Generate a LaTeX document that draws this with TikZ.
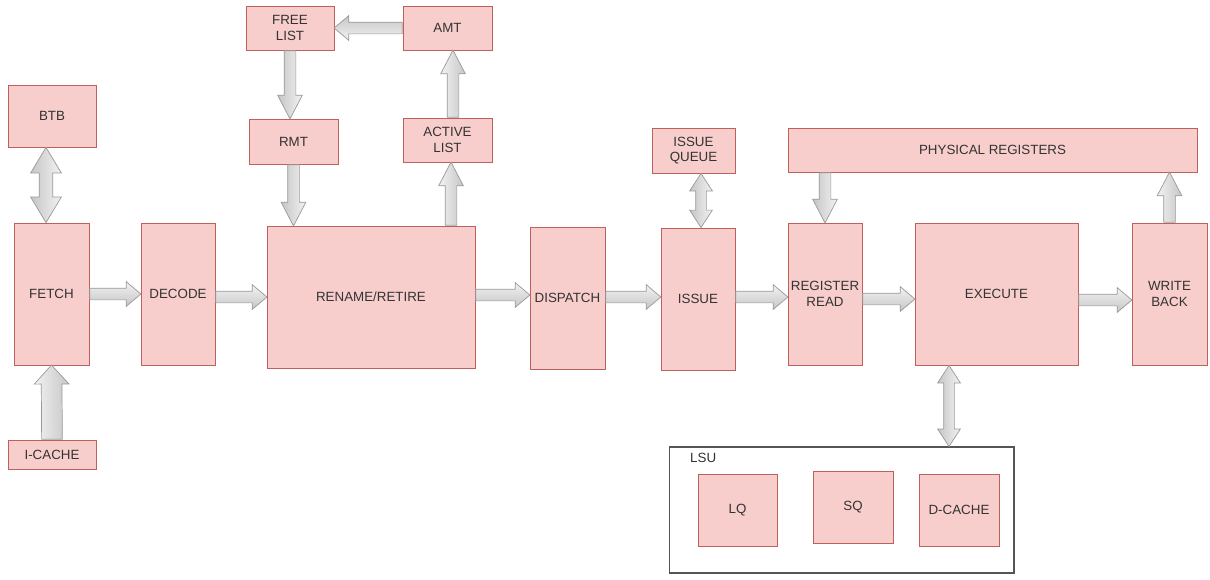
\documentclass[tikz,border=0pt]{standalone}
\usepackage{fontspec}
\setmainfont{Liberation Sans}
\usetikzlibrary{calc,positioning,shapes.arrows}
\definecolor{boxfill}{HTML}{F8CECC}
\definecolor{boxline}{HTML}{C0605C}
\definecolor{txt}{HTML}{333333}
\definecolor{arrline}{HTML}{999999}
\definecolor{lsuline}{HTML}{555555}

% block arrows between two points
\newcommand{\barr}[3][]{\path let \p1=(#2), \p2=(#3), \n1={veclen(\x2-\x1,\y2-\y1)}, \n2={atan2(\y2-\y1,\x2-\x1)} in node[arr,#1,minimum height=\n1,rotate=\n2,shading angle=\n2,anchor=tail] at (#2) {};}
\newcommand{\dbarr}[3][]{\path let \p1=(#2), \p2=(#3), \n1={veclen(\x2-\x1,\y2-\y1)}, \n2={atan2(\y2-\y1,\x2-\x1)} in node[arr,darr,#1,minimum height=\n1,rotate=\n2,shading angle=\n2] at ($(#2)!0.5!(#3)$) {};}

\begin{document}
\begin{tikzpicture}[x=0.02cm,y=-0.02cm,
  font=\fontsize{7.6}{9}\selectfont,
  blk/.style={draw=boxline,fill=boxfill,text=txt,align=center,inner sep=1pt,line width=0.5pt},
  arr/.style={single arrow,draw=arrline,top color=gray!10,bottom color=gray!45,line width=0.4pt,
    inner xsep=0pt,inner ysep=0.11cm,minimum width=0pt,single arrow head extend=0.13cm,
    single arrow tip angle=80,single arrow head indent=0pt},
  varr/.style={single arrow tip angle=55},
  darr/.style={double arrow,double arrow head extend=0.12cm,
    inner ysep=0.1cm,double arrow tip angle=66,double arrow head indent=0pt}]
  \useasboundingbox (0,0) rectangle (1210,579);

  % front end
  \node[blk,minimum width=1.76cm,minimum height=1.24cm] (btb) at (52,116) {BTB};
  \node[blk,minimum width=1.5cm,minimum height=2.84cm] (fetch) at (51.5,294) {FETCH};
  \node[blk,minimum width=1.76cm,minimum height=0.58cm] (icache) at (52,454.5) {I-CACHE};
  \node[blk,minimum width=1.48cm,minimum height=2.84cm] (dec) at (178,294) {DECODE};

  % rename
  \node[blk,minimum width=4.16cm,minimum height=2.84cm] (ren) at (371,297) {RENAME/RETIRE};
  \node[blk,minimum width=1.76cm,minimum height=0.88cm] (fl) at (290,28) {FREE\\LIST};
  \node[blk,minimum width=1.78cm,minimum height=0.88cm] (amt) at (447.5,28) {AMT};
  \node[blk,minimum width=1.78cm,minimum height=0.9cm] (rmt) at (293.5,141.5) {RMT};
  \node[blk,minimum width=1.78cm,minimum height=0.88cm] (al) at (447.5,140) {ACTIVE\\LIST};

  % back end
  \node[blk,minimum width=1.5cm,minimum height=2.84cm] (disp) at (567.5,298) {DISPATCH};
  \node[blk,minimum width=1.66cm,minimum height=0.9cm] (iq) at (693.5,150.5) {ISSUE\\QUEUE};
  \node[blk,minimum width=1.48cm,minimum height=2.84cm] (iss) at (698,299) {ISSUE};
  \node[blk,minimum width=8.18cm,minimum height=0.88cm] (prf) at (992.5,150) {PHYSICAL REGISTERS};
  \node[blk,minimum width=1.48cm,minimum height=2.84cm] (rr) at (825,294) {REGISTER\\READ};
  \node[blk,minimum width=3.26cm,minimum height=2.84cm] (ex) at (996.5,294) {EXECUTE};
  \node[blk,minimum width=1.5cm,minimum height=2.84cm] (wb) at (1169.5,294) {WRITE\\BACK};

  % load/store unit
  \node[draw=lsuline,fill=white,line width=0.6pt,minimum width=6.9cm,minimum height=2.52cm] (lsu) at (841.5,510) {};
  \node[text=txt,anchor=west] (lsulbl) at (684,458) {LSU};
  \node[blk,minimum width=1.58cm,minimum height=1.44cm] (lq) at (737.5,510) {LQ};
  \node[blk,minimum width=1.6cm,minimum height=1.44cm] (sq) at (853,507) {SQ};
  \node[blk,minimum width=1.6cm,minimum height=1.44cm] (dc) at (959,510) {D-CACHE};

  % arrows
  \dbarr[inner ysep=0.13cm,double arrow head extend=0.17cm,double arrow tip angle=62]{btb.south -| 46,0}{fetch.north -| 46,0}
  \barr[varr,inner ysep=0.2cm,single arrow head extend=0.14cm,single arrow tip angle=85]{icache.north}{fetch.south}
  \barr{fetch.east}{dec.west}
  \barr{dec.east |- ren.west}{ren.west}
  \barr[varr]{fl.south}{fl.south |- rmt.north}
  \barr{amt.west}{fl.east}
  \barr[varr]{al.north -| 453,0}{amt.south -| 453,0}
  \barr[varr]{ren.north -| 451,0}{al.south -| 451,0}
  \barr[varr]{rmt.south}{rmt.south |- ren.north}
  \barr{ren.east |- 0,295}{disp.west |- 0,295}
  \barr{disp.east |- 0,297}{iss.west |- 0,297}
  \dbarr{iq.south -| 701,0}{iss.north -| 701,0}
  \barr{iss.east |- 0,297}{rr.west |- 0,297}
  \barr[varr]{prf.south -| rr.north}{rr.north}
  \barr{rr.east |- 0,299}{ex.west |- 0,299}
  \dbarr{ex.south -| 949,0}{lsu.north -| 949,0}
  \barr{ex.east |- 0,300}{wb.west |- 0,300}
  \barr[varr]{wb.north}{wb.north |- prf.south}
\end{tikzpicture}
\end{document}
